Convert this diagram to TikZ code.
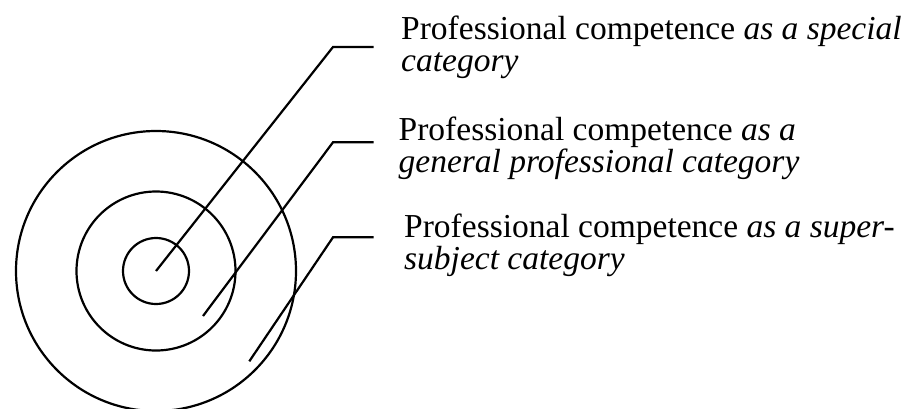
\documentclass[tikz,border=0pt]{standalone}
\usepackage{fontspec}
\setmainfont{Liberation Serif}
\begin{document}
\begin{tikzpicture}[x=1pt,y=-1pt,
  ring/.style={line width=2.2pt},
  leader/.style={line width=2.2pt,line join=miter},
  label/.style={anchor=base west,inner sep=0pt,align=left,
    font=\fontsize{33.5}{32}\selectfont}]
\useasboundingbox (0,0) rectangle (905,408);
\coordinate (c) at (156,271);
\draw[ring] (c) circle[radius=33];
\draw[ring] (c) circle[radius=79.5];
\draw[ring] (c) circle[radius=140];
% leader points
\coordinate (p1) at (156,271);
\coordinate (k1) at (333,47);
\coordinate (e1) at (373.5,47);
\coordinate (p2) at (203,316);
\coordinate (k2) at (333,142.3);
\coordinate (e2) at (373.5,142.3);
\coordinate (p3) at (249.3,361.3);
\coordinate (k3) at (333,237.3);
\coordinate (e3) at (373.5,237.3);
\draw[leader] (p1) -- (k1) -- (e1);
\draw[leader] (p2) -- (k2) -- (e2);
\draw[leader] (p3) -- (k3) -- (e3);
\node[label] (t1) at (401,71) {Professional competence \textit{as a special}\\\textit{category}};
\node[label] (t2) at (398.5,172.5) {Professional competence \textit{as a}\\\textit{general professional category}};
\node[label] (t3) at (404,269) {Professional competence \textit{as a super-}\\\textit{subject category}};
\end{tikzpicture}
\end{document}
